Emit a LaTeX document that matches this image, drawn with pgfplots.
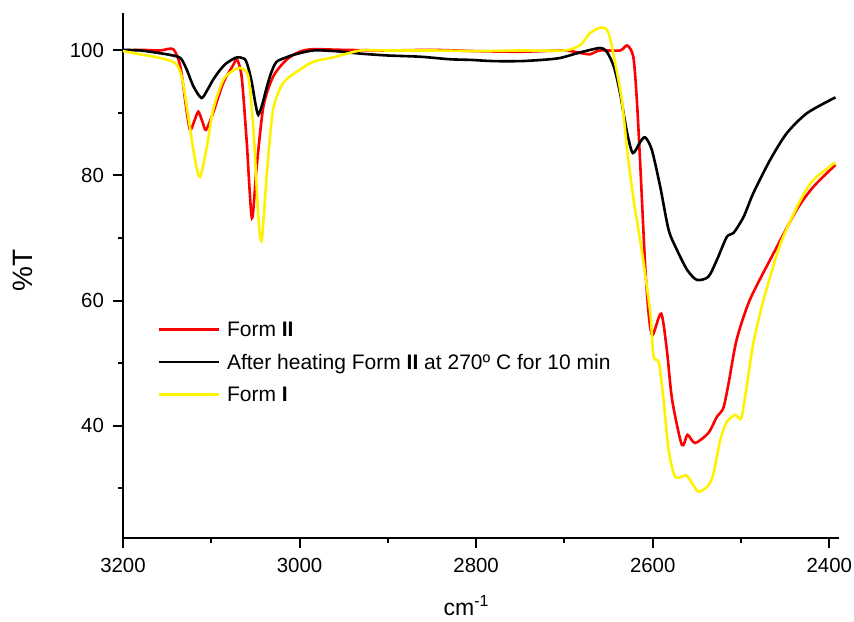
\documentclass[border=0pt]{standalone}
\usepackage{fontspec}
\setmainfont{Liberation Sans}
\usepackage{pgfplots}
\usepackage{pgfplotstable}
\pgfplotsset{compat=1.18}

% Form II
\pgfplotstableread{
x y
3200 100
3180 100.1
3158 100
3143 100.2
3135 97.4
3128.6 91
3124 87.3
3119 88.8
3114.7 90.2
3110 88.6
3106 87.3
3098 90
3086.5 94.8
3075 97.7
3071 98.6
3065.6 95.8
3060 85.7
3054 73.2
3048.6 81.4
3041 91
3030 95.8
3015 98.5
3000 99.8
2985 100.2
2950 100.1
2900 100.0
2850 100.1
2800 99.9
2750 99.8
2700 100
2682 99.6
2671 99.4
2660 100
2637 100
2629 100.8
2622 99
2618 92.1
2614 81.4
2608.5 65.4
2604 57
2600 54.5
2590.4 57.9
2584 52.1
2578 44.1
2567 36.9
2560.6 38.5
2552 37.2
2537 38.8
2527.3 41.4
2520 42.8
2514 46.8
2505 53.7
2490 60.1
2463 67.6
2437 74.5
2418 78.2
2393 81.7
}\formII

% after heating Form II
\pgfplotstableread{
x y
3200 100.1
3180 100
3160 99.6
3147 99.3
3135 98.8
3128 97
3120 94.2
3111 92.4
3104 93.8
3098 95.3
3090 96.9
3082.5 98
3071 98.9
3062 98.6
3058 97.2
3054 94.8
3050 91.5
3046.7 89.7
3042 91.5
3037 94.2
3032 96.5
3026 98.2
3015 98.9
3007 99.3
2985 100
2960 99.9
2931 99.5
2900 99.2
2863 99
2830 98.6
2807 98.5
2780 98.3
2750 98.3
2725 98.5
2705 98.8
2682 99.7
2659.5 100.4
2652 99.8
2644 97.4
2637 93.2
2629 86.8
2622.5 83.6
2614 85.4
2608.5 86.1
2601 84.1
2591.5 78.2
2582 71.3
2572.6 68.1
2561 64.9
2550 63.3
2537 63.8
2527.3 66.5
2516 70.2
2508.5 70.8
2497 73.4
2486 77.2
2467 82.5
2448 86.8
2425 90
2393 92.5
}\heated

% Form I
\pgfplotstableread{
x y
3200 99.9
3177 99.3
3158 98.8
3141 98
3133.5 95.8
3126 89.4
3118.4 82.5
3112.7 79.8
3105 84.6
3098 90.5
3086.5 95.3
3075 96.8
3067.4 97.2
3058 95.8
3052 86.8
3046.7 73.4
3042.8 69.7
3037 80.4
3030 90.5
3018.5 94.8
3000 96.9
2984.4 98.2
2962 98.9
2931 100
2900 100
2850 100
2800 99.9
2750 100
2700 100
2682 100.9
2671 102.8
2657.6 103.7
2650 102.8
2642.5 98
2635 92.1
2629 84.1
2621.6 76.1
2612 67.6
2604.6 60.1
2602 56.9
2599 51
2593 50
2587.7 44.1
2582 36.1
2574.5 31.8
2562 32
2555.6 30.8
2548 29.4
2537 30.4
2531 32.4
2523.5 37.7
2516 40.6
2506.5 41.7
2499.7 41.2
2493 46.8
2486 53.2
2474.5 60.1
2455 69.2
2432.5 76.1
2418 79.3
2393 82.1
}\formI

\begin{document}
\begin{tikzpicture}
\begin{axis}[
  name=ax,
  width=358pt, height=262.5pt, scale only axis,
  x dir=reverse,
  xmin=2389, xmax=3200, ymin=22, ymax=106,
  axis x line*=bottom, axis y line*=left,
  axis line style={line width=1pt},
  tick align=outside,
  major tick length=5pt, minor tick length=2.5pt,
  every tick/.style={black, line width=1pt},
  xtick={2400,2600,2800,3000,3200}, minor xtick={2500,2700,2900,3100},
  ytick={40,60,80,100}, minor ytick={30,50,70,90},
  tick label style={font=\fontsize{10.2}{11}\selectfont},
  yticklabel style={xshift=-1pt},
  xticklabel style={yshift=-1.5pt},
  /pgf/number format/assume math mode=true,
  /pgf/number format/1000 sep={},
  xlabel={cm\textsuperscript{-1}}, ylabel={\%T},
  xlabel style={font=\fontsize{11.5}{13}\selectfont,
    at={(axis description cs:0.48,-0.1467)}, anchor=base},
  ylabel style={font=\fontsize{14}{16}\selectfont,
    at={(axis description cs:-0.1257,0.51)}, anchor=base, rotate=0},
  legend cell align=left,
  legend style={at={(axis description cs:0.0475,0.4219)}, anchor=north west,
    draw=none, fill=none, inner sep=0pt, column sep=3.5pt, row sep=3.75pt,
    nodes={inner sep=0pt, text height=10pt, text depth=2.5pt},
    font=\fontsize{10.5}{12}\selectfont},
  legend image code/.code={\draw[#1] (0pt,0pt) -- (30pt,0pt);},
  every axis plot/.append style={line width=1.3pt, smooth, tension=0.45},
]
\addplot[red] table[x=x,y=y] {\formII};
\addlegendentry{Form \textbf{II}}
\addplot[black] table[x=x,y=y] {\heated};
\addlegendentry{After heating Form \textbf{II} at 270º C for 10 min}
\addplot[yellow] table[x=x,y=y] {\formI};
\addlegendentry{Form \textbf{I}}
\end{axis}
\pgfresetboundingbox
\path (ax.south west) ++(-61.5pt,-41.5pt) rectangle ++(427pt,310.5pt);
\end{tikzpicture}
\end{document}
